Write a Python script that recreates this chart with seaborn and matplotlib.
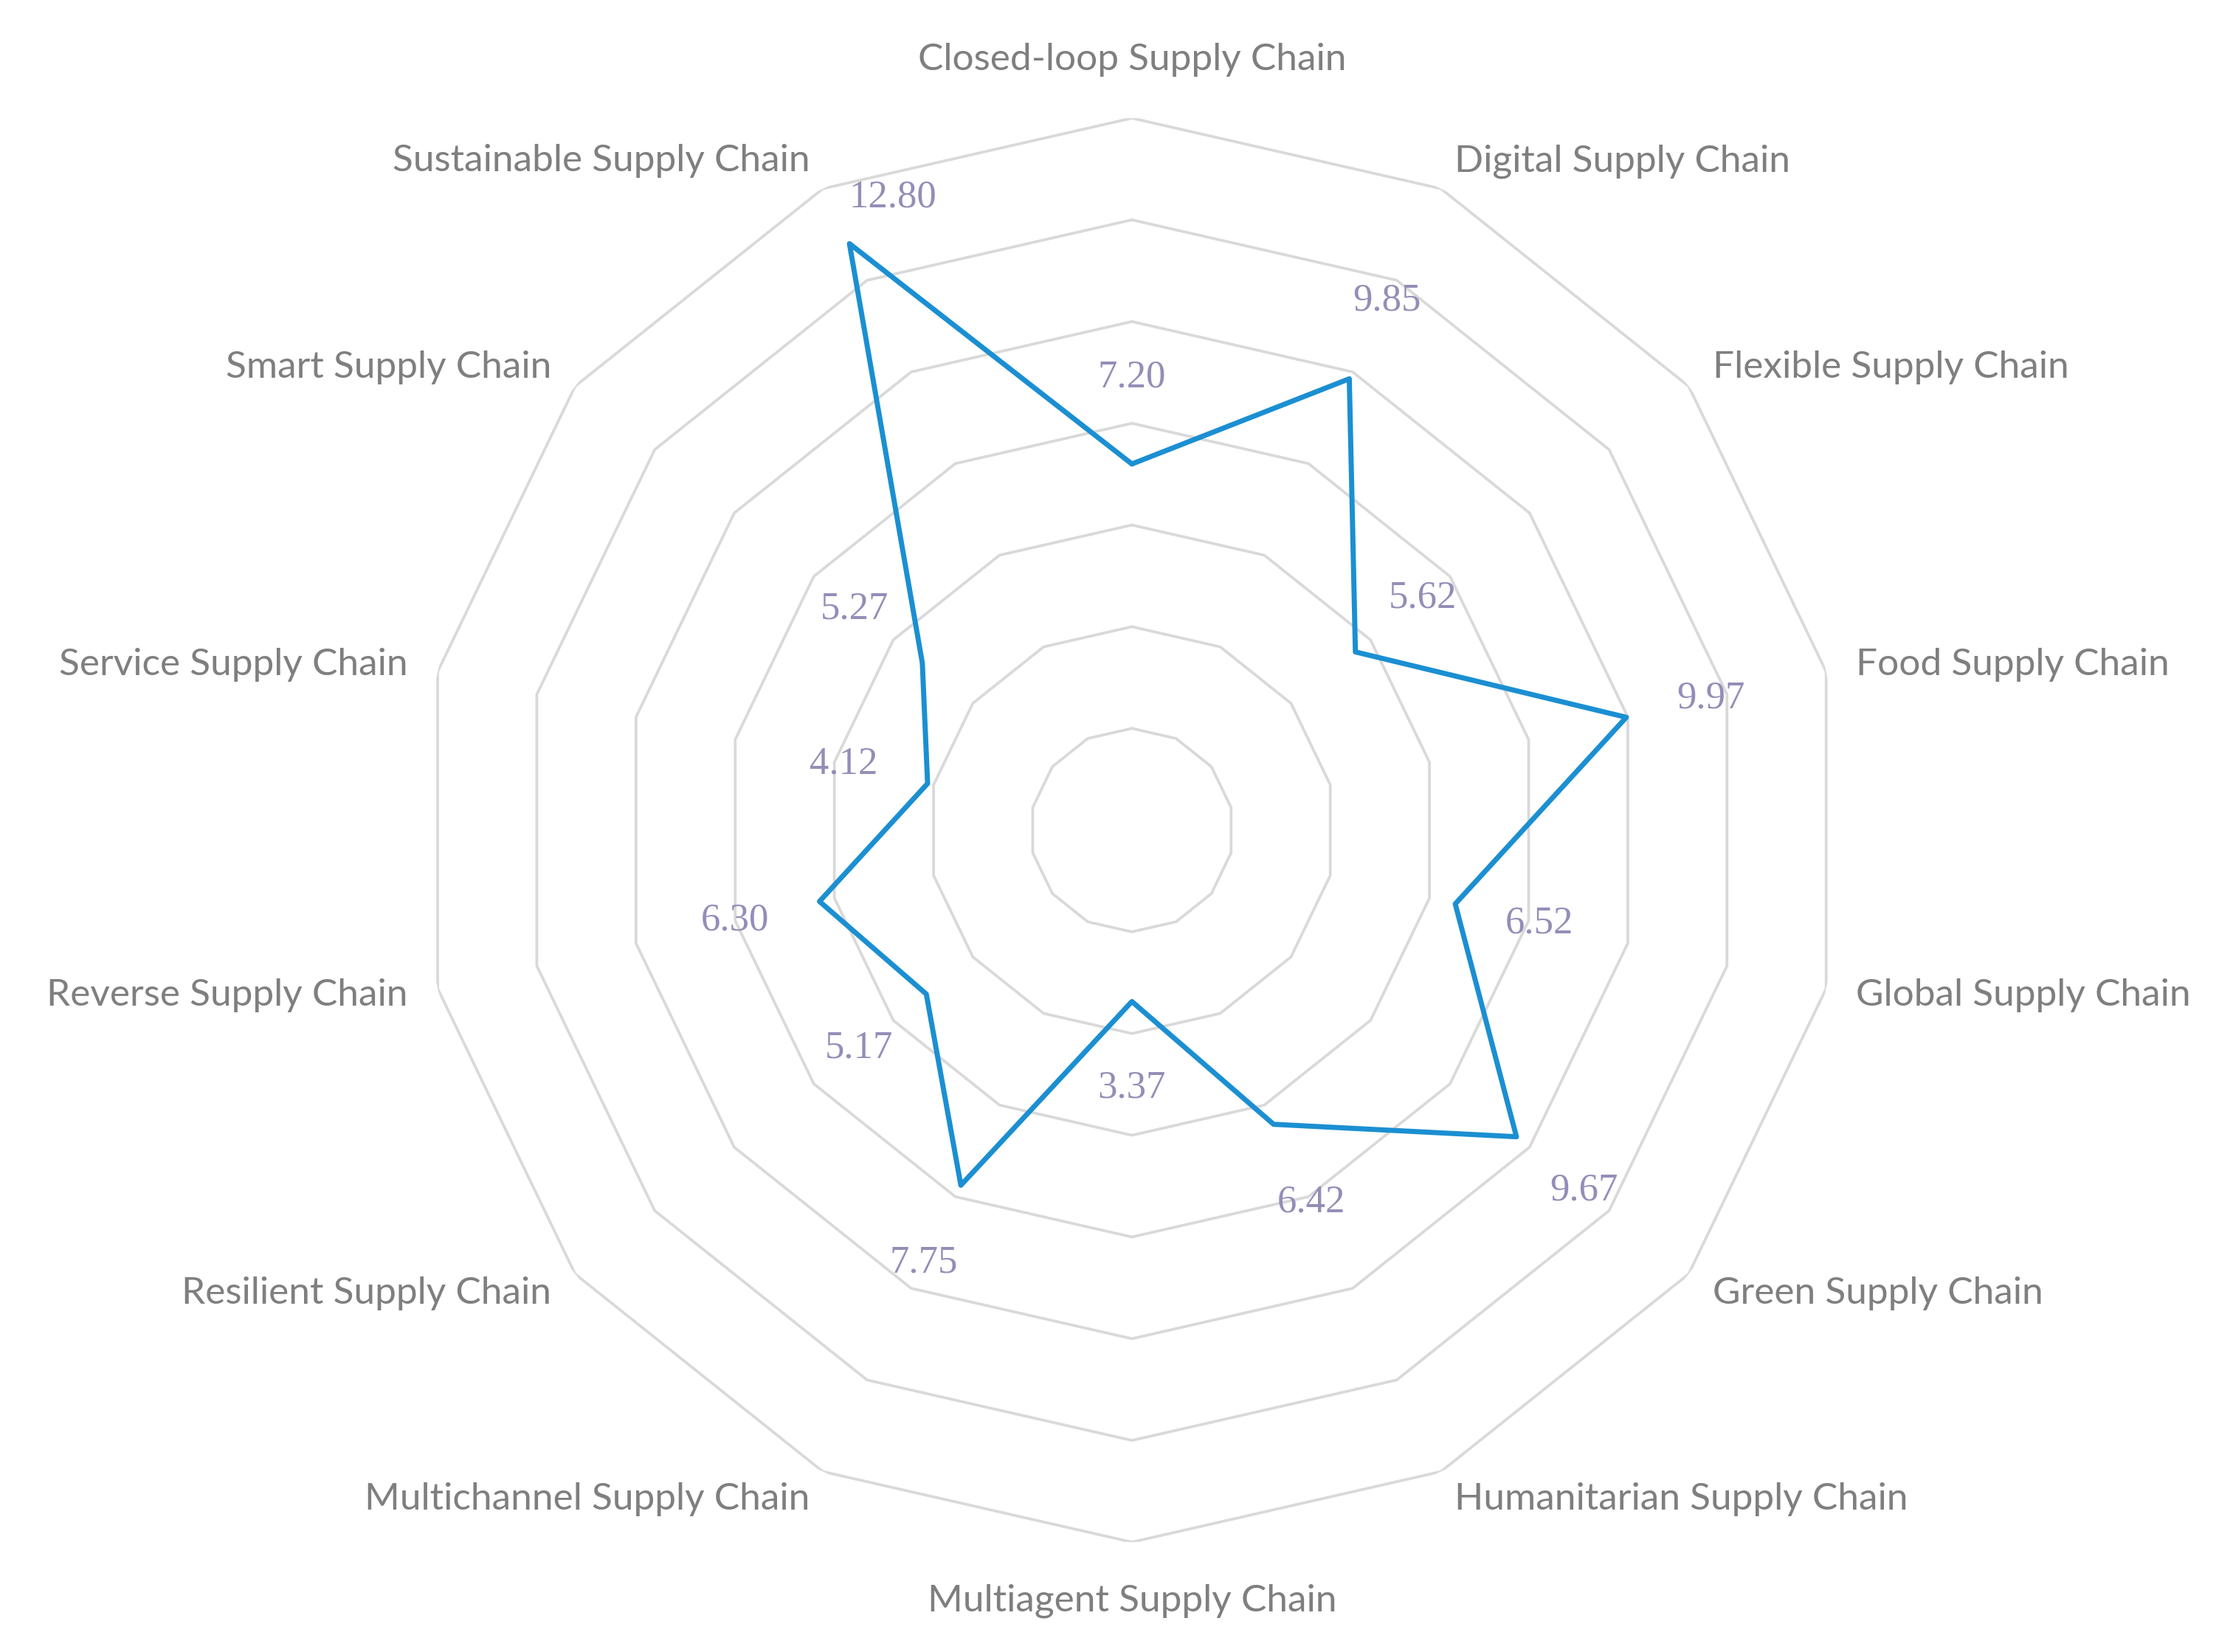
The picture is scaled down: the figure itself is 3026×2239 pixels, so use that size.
import numpy as np
import pandas as pd
import matplotlib
matplotlib.use("Agg")
import matplotlib.pyplot as plt
from matplotlib import font_manager
import seaborn as sns

# chart data, clockwise from the top
categories = [
    "Closed-loop Supply Chain", "Digital Supply Chain", "Flexible Supply Chain",
    "Food Supply Chain", "Global Supply Chain", "Green Supply Chain",
    "Humanitarian Supply Chain", "Multiagent Supply Chain", "Multichannel Supply Chain",
    "Resilient Supply Chain", "Reverse Supply Chain", "Service Supply Chain",
    "Smart Supply Chain", "Sustainable Supply Chain",
]
values = [7.20, 9.85, 5.62, 9.97, 6.52, 9.67, 6.42, 3.37, 7.75, 5.17, 6.30, 4.12, 5.27, 12.80]
ring_levels = [2, 4, 6, 8, 10, 12, 14]


def pick_font(names):
    have = {f.name for f in font_manager.fontManager.ttflist}
    for n in names:
        if n in have:
            return n
    return "DejaVu Sans"


sns.set_theme(style="white")
cat_font = pick_font(["Lato", "Liberation Sans Narrow", "Open Sans"])
num_font = pick_font(["Liberation Serif", "DejaVu Serif"])
plt.rcParams["font.family"] = [cat_font, "DejaVu Sans"]

line_color = "#1b8fd2"
grid_color = "#d9d9d9"
cat_color = "#7f7f7f"
num_color = "#958db7"

n = len(categories)
theta = np.arange(n) * 2 * np.pi / n
df = pd.DataFrame({"theta": np.append(theta, theta[0]),
                   "value": values + values[:1]})

fig = plt.figure(figsize=(30.26, 22.39), dpi=100)
ax = fig.add_axes([0.188, 0.0665, 0.6378, 0.862], projection="polar")
ax.set_theta_zero_location("N")
ax.set_theta_direction(-1)
ax.set_ylim(0, 14)
ax.grid(False)
ax.spines["polar"].set_visible(False)
ax.set_xticks([])
ax.set_yticks([])

# polygon rings
closed_theta = np.append(theta, theta[0])
for lvl in ring_levels:
    ax.plot(closed_theta, [lvl] * (n + 1), color=grid_color, lw=2.7, zorder=1)

# estimator=None keeps the closing point instead of averaging it with the first
sns.lineplot(data=df, x="theta", y="value", sort=False, estimator=None,
             color=line_color, lw=5, ax=ax, zorder=3)
ax.set_xlabel("")
ax.set_ylabel("")

# data labels, pushed outwards along each spoke
for t, v in zip(theta, values):
    r = v + 1.7
    tt = t
    if r > 13.3:
        r = 13.3
        tt = t + np.deg2rad(5)
    ax.text(tt, r, f"{v:.2f}", ha="center", va="center", fontsize=38,
            color=num_color, family=num_font, zorder=4)

# category labels outside the outer ring
for t, name in zip(theta, categories):
    s = np.sin(t)
    if s > 0.01:
        ha, r = "left", 14.6
    elif s < -0.01:
        ha, r = "right", 14.6
    else:
        ha, r = "center", 15.15
    ax.text(t, r, name, ha=ha, va="center", fontsize=37, color=cat_color,
            clip_on=False)

fig.savefig("out.png", dpi=100, facecolor="white")
